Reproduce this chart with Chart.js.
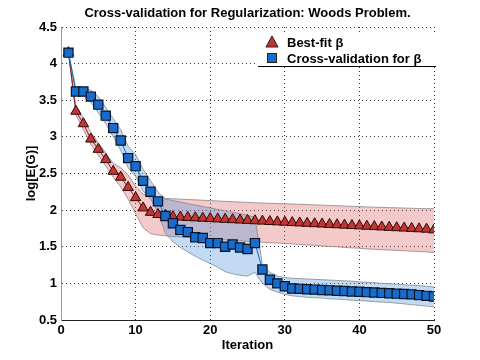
<!DOCTYPE html>
<html>
<head>
<meta charset="utf-8">
<script src="https://cdn.jsdelivr.net/npm/chart.js@4.4.0/dist/chart.umd.min.js"></script>
<style>
  body { margin: 0; background: #fff; }
</style>
</head>
<body>
<canvas id="chart" width="480" height="360"></canvas>
<script>
// data
let iterations = [1, 2, 3, 4, 5, 6, 7, 8, 9, 10, 11, 12, 13, 14, 15, 16, 17, 18, 19, 20,
    21, 22, 23, 24, 25, 26, 27, 28, 29, 30, 31, 32, 33, 34, 35, 36, 37, 38, 39, 40,
    41, 42, 43, 44, 45, 46, 47, 48, 49, 50];

let bestFit = [4.15, 3.35, 3.18, 2.97, 2.83, 2.69, 2.53, 2.45, 2.31, 2.17, 2.03, 1.97, 1.94, 1.93, 1.91,
    1.905, 1.90, 1.895, 1.89, 1.885, 1.88, 1.875, 1.87, 1.865, 1.86, 1.855, 1.85, 1.845, 1.84, 1.835,
    1.83, 1.825, 1.82, 1.815, 1.81, 1.805, 1.80, 1.795, 1.79, 1.785, 1.78, 1.775, 1.77, 1.765, 1.76,
    1.755, 1.75, 1.745, 1.74, 1.73];
let bestFitHi = [4.15, 3.40, 3.25, 3.06, 2.92, 2.78, 2.64, 2.58, 2.48, 2.33, 2.22, 2.18, 2.17, 2.16, 2.155,
    2.15, 2.145, 2.14, 2.135, 2.13, 2.125, 2.12, 2.115, 2.11, 2.105, 2.10, 2.097, 2.093, 2.09, 2.087,
    2.083, 2.08, 2.076, 2.072, 2.068, 2.064, 2.06, 2.056, 2.052, 2.048, 2.044, 2.04, 2.037, 2.034, 2.031,
    2.028, 2.025, 2.022, 2.02, 2.02];
let bestFitLo = [4.15, 3.30, 3.10, 2.90, 2.75, 2.60, 2.45, 2.32, 2.15, 1.95, 1.76, 1.68, 1.66, 1.65, 1.64,
    1.635, 1.63, 1.62, 1.615, 1.61, 1.60, 1.595, 1.59, 1.58, 1.575, 1.57, 1.56, 1.555, 1.55, 1.545,
    1.54, 1.53, 1.525, 1.52, 1.51, 1.505, 1.50, 1.49, 1.485, 1.48, 1.47, 1.465, 1.46, 1.455, 1.45,
    1.445, 1.44, 1.435, 1.43, 1.42];

let crossVal = [4.15, 3.62, 3.62, 3.55, 3.44, 3.29, 3.12, 2.95, 2.71, 2.60, 2.40, 2.25, 2.12, 1.92, 1.82,
    1.73, 1.70, 1.63, 1.62, 1.55, 1.55, 1.50, 1.53, 1.49, 1.47, 1.55, 1.19, 1.05, 1.00, 0.96,
    0.93, 0.925, 0.92, 0.915, 0.91, 0.905, 0.90, 0.895, 0.89, 0.885, 0.88, 0.875, 0.87, 0.865, 0.86,
    0.855, 0.85, 0.84, 0.83, 0.82];
let crossValHi = [4.15, 3.66, 3.66, 3.64, 3.55, 3.40, 3.25, 3.10, 2.87, 2.76, 2.56, 2.40, 2.25, 2.15, 2.13,
    2.11, 2.09, 2.07, 2.05, 2.03, 2.01, 1.99, 1.97, 1.95, 1.93, 1.90, 1.25, 1.15, 1.10, 1.08,
    1.07, 1.065, 1.06, 1.055, 1.05, 1.045, 1.04, 1.035, 1.03, 1.02, 1.015, 1.01, 1.0, 0.995, 0.99,
    0.98, 0.975, 0.97, 0.96, 0.95];
let crossValLo = [4.15, 3.58, 3.56, 3.47, 3.33, 3.18, 3.00, 2.82, 2.58, 2.46, 2.26, 2.15, 1.98, 1.68, 1.57,
    1.49, 1.43, 1.37, 1.32, 1.27, 1.22, 1.16, 1.13, 1.11, 1.10, 1.15, 1.00, 0.92, 0.88, 0.85,
    0.83, 0.82, 0.81, 0.805, 0.80, 0.79, 0.785, 0.78, 0.77, 0.765, 0.76, 0.75, 0.745, 0.74, 0.73,
    0.72, 0.71, 0.70, 0.69, 0.68];

let titleText = 'Cross-validation for Regularization: Woods Problem.';
let legendLabels = ['Best-fit β', 'Cross-validation for β'];

const FONT = '"Liberation Sans", Arial, Helvetica, sans-serif';
const RED = 'rgb(196, 52, 48)';
const BLUE = 'rgb(24, 108, 204)';

function pts(ys) {
    return iterations.map((x, i) => ({x: x, y: ys[i]}));
}

function band(ys, fill, color, order) {
    return {
        data: pts(ys),
        borderColor: 'rgba(130,130,130,0.75)',
        borderWidth: 1,
        backgroundColor: color,
        pointRadius: 0,
        fill: fill,
        order: order
    };
}

// title + legend drawn on the canvas
const extras = {
    id: 'extras',
    afterDraw(chart) {
        const ctx = chart.ctx;
        const area = chart.chartArea;
        ctx.save();
        ctx.fillStyle = '#000';
        ctx.font = 'bold 13px ' + FONT;
        ctx.textAlign = 'center';
        ctx.textBaseline = 'middle';
        ctx.fillText(titleText, (area.left + area.right) / 2, 13);

        // legend box
        ctx.fillStyle = '#fff';
        ctx.fillRect(258, 33, 178, 33);
        ctx.strokeStyle = '#000';
        ctx.lineWidth = 1;
        ctx.beginPath();
        ctx.moveTo(258, 66.5);
        ctx.lineTo(436, 66.5);
        ctx.stroke();

        ctx.fillStyle = RED;
        ctx.strokeStyle = '#222';
        ctx.beginPath();
        ctx.moveTo(272, 36);
        ctx.lineTo(278, 47);
        ctx.lineTo(266, 47);
        ctx.closePath();
        ctx.fill();
        ctx.stroke();

        ctx.fillStyle = BLUE;
        ctx.fillRect(267.5, 53.5, 9, 9);
        ctx.strokeRect(267.5, 53.5, 9, 9);

        ctx.fillStyle = '#000';
        ctx.font = 'bold 13px ' + FONT;
        ctx.textAlign = 'left';
        ctx.fillText(legendLabels[0], 287, 43);
        ctx.fillText(legendLabels[1], 287, 59);
        ctx.restore();
    }
};

const ctx = document.getElementById('chart').getContext('2d');
const chart = new Chart(ctx, {
    type: 'line',
    data: {
        datasets: [
            band(bestFitLo, false, 'rgba(0,0,0,0)', 5),
            band(bestFitHi, '-1', 'rgba(222,90,90,0.33)', 4),
            band(crossValLo, false, 'rgba(0,0,0,0)', 3),
            band(crossValHi, '-1', 'rgba(80,150,222,0.35)', 2),
            {
                label: legendLabels[0],
                data: pts(bestFit),
                borderColor: 'rgb(140,30,30)',
                borderWidth: 1,
                pointStyle: 'triangle',
                pointRadius: 6,
                pointBackgroundColor: RED,
                pointBorderColor: '#2a0a0a',
                pointBorderWidth: 1,
                fill: false,
                order: 1
            },
            {
                label: legendLabels[1],
                data: pts(crossVal),
                borderColor: BLUE,
                borderWidth: 1,
                pointStyle: 'rect',
                pointRadius: 6.5,
                pointBackgroundColor: BLUE,
                pointBorderColor: '#0a1426',
                pointBorderWidth: 1.2,
                fill: false,
                order: 0
            }
        ]
    },
    options: {
        responsive: false,
        animation: false,
        devicePixelRatio: 1,
        layout: { padding: { top: 27, right: 46, left: 0, bottom: 0 } },
        plugins: {
            legend: { display: false },
            title: { display: false },
            tooltip: { enabled: false }
        },
        scales: {
            x: {
                type: 'linear',
                min: 0,
                max: 50,
                ticks: { stepSize: 10, color: '#000', padding: 3, font: { family: FONT, size: 13, weight: 'bold' } },
                grid: { color: '#333', lineWidth: 1, drawTicks: false },
                border: { display: true, color: '#222', width: 1, dash: [1, 3] },
                title: { display: true, text: 'Iteration', color: '#000', padding: { top: 0, bottom: 7 }, font: { family: FONT, size: 13, weight: 'bold' } },
                afterFit(scale) { scale.height = 40; }
            },
            y: {
                min: 0.5,
                max: 4.5,
                ticks: {
                    stepSize: 0.5, color: '#000', padding: 4,
                    font: { family: FONT, size: 13, weight: 'bold' },
                    callback: (v) => String(v)
                },
                grid: { color: '#333', lineWidth: 1, drawTicks: false },
                border: { display: true, color: '#999', width: 1, dash: [1, 3] },
                title: { display: true, text: 'log[E(G)]', color: '#000', padding: { top: 24, bottom: 0 }, font: { family: FONT, size: 13, weight: 'bold' } },
                afterFit(scale) { scale.width = 61; }
            }
        }
    },
    plugins: [extras]
});
</script>
</body>
</html>
